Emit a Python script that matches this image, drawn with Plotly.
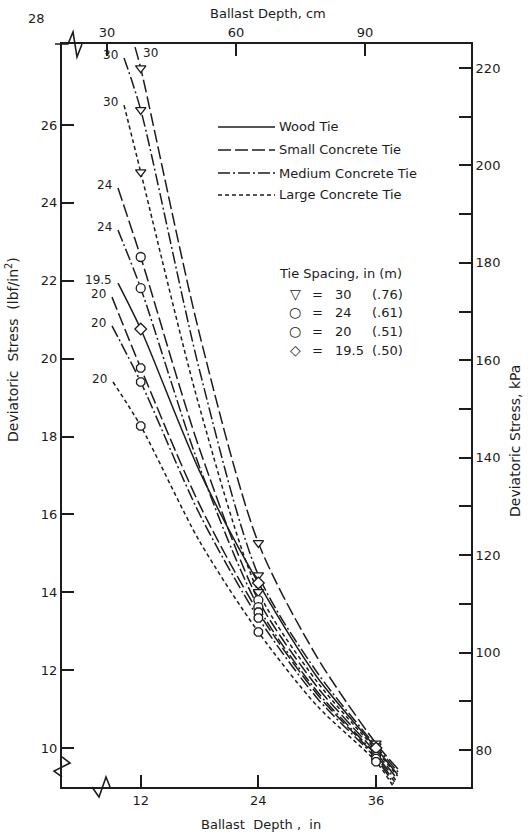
import plotly.graph_objects as go

# ---------------- data ----------------
curve_tie = ["Small", "Medium", "Large", "Small", "Medium", "Wood", "Small", "Medium", "Large"]
curve_spacing = [30, 30, 30, 24, 24, 19.5, 20, 20, 20]
curve_label = ["30", "30", "30", "24", "24", "19.5", "20", "20", "20"]
start_depth = [11.42, 10.30, 10.30, 9.68, 9.68, 9.68, 9.07, 9.07, 9.17]
start_stress = [28.0, 27.72, 26.51, 24.38, 23.30, 21.94, 21.58, 20.84, 19.40]
stress_12 = [27.46, 26.39, 24.79, 22.61, 21.81, 20.76, 19.76, 19.40, 18.27]
stress_18 = [20.63, 19.70, 18.75, 17.68, 17.22, 17.11, 16.25, 16.01, 15.31]
stress_24 = [15.27, 14.44, 14.01, 13.80, 13.62, 14.24, 13.49, 13.34, 12.98]
stress_30 = [12.33, 11.94, 11.70, 11.57, 11.45, 11.82, 11.38, 11.28, 11.08]
stress_36 = [10.12, 10.05, 9.95, 9.88, 9.82, 10.00, 9.78, 9.73, 9.65]
end_depth = [38.4, 38.3, 38.2, 38.1, 38.0, 38.2, 37.9, 37.8, 37.7]
end_stress = [9.42, 9.37, 9.28, 9.23, 9.18, 9.32, 9.13, 9.08, 9.04]

depth_in_ticks = [12, 24, 36]
depth_cm_ticks = [30, 60, 90]
stress_psi_ticks = [10, 12, 14, 16, 18, 20, 22, 24, 26]
stress_kpa_ticks = [80, 100, 120, 140, 160, 180, 200, 220]
stress_kpa_minor = [90, 110, 130, 150, 170, 190, 210]

legend_ties = ["Wood Tie", "Small Concrete Tie", "Medium Concrete Tie", "Large Concrete Tie"]
spacing_rows = [("▽", "30", "(.76)"), ("○", "24", "(.61)"), ("○", "20", "(.51)"), ("◇", "19.5", "(.50)")]

# ---------------- styles ----------------
INK = "#1c1c1c"
FONT = "DejaVu Sans"
DASH = {"Wood": "solid", "Small": "13px,4px", "Medium": "12px,3px,2px,3px", "Large": "4px,3px"}
SYMBOL = {30: "triangle-down", 24: "circle", 20: "octagon", 19.5: "diamond"}

W, H = 528, 837
L, R, T, B = 62, 471, 44, 787  # plot frame in pixels


def pp(x, y):
    return (x - L) / (R - L), (B - y) / (B - T)


fig = go.Figure()
for i in range(len(curve_tie)):
    xs = [start_depth[i], 12, 18, 24, 30, 36, end_depth[i]]
    ys = [start_stress[i], stress_12[i], stress_18[i], stress_24[i], stress_30[i], stress_36[i], end_stress[i]]
    fig.add_trace(go.Scatter(
        x=xs, y=ys, mode="lines",
        line=dict(color=INK, width=1.5, dash=DASH[curve_tie[i]], shape="spline", smoothing=0.8),
        showlegend=False, hoverinfo="skip"))
for i in range(len(curve_tie)):
    fig.add_trace(go.Scatter(
        x=depth_in_ticks, y=[stress_12[i], stress_24[i], stress_36[i]], mode="markers",
        marker=dict(symbol=SYMBOL[curve_spacing[i]], size=9, color="white",
                    line=dict(color=INK, width=1.3)),
        showlegend=False, hoverinfo="skip"))

# placeholder trace so the secondary axes are drawn
fig.add_trace(go.Scatter(x=[None], y=[None], xaxis="x2", yaxis="y2", showlegend=False, hoverinfo="skip"))

axis_common = dict(showgrid=False, zeroline=False, showline=True, linecolor=INK, linewidth=2,
                   ticks="inside", ticklen=12, tickwidth=1.5, tickcolor=INK, automargin=False,
                   tickfont=dict(family=FONT, size=13, color=INK))

fig.update_layout(
    width=W, height=H,
    margin=dict(l=L, r=W - R, t=T, b=H - B, autoexpand=False),
    paper_bgcolor="white", plot_bgcolor="white",
    font=dict(family=FONT, size=13, color=INK),
    xaxis=dict(range=[3.97, 45.69], tickvals=depth_in_ticks, **axis_common),
    xaxis2=dict(range=[19.53, 114.65], tickvals=depth_cm_ticks, overlaying="x", side="top",
                anchor="y", **axis_common),
    yaxis=dict(range=[9.0, 28.08], tickvals=stress_psi_ticks, **axis_common),
    yaxis2=dict(range=[72.4, 224.93], tickvals=stress_kpa_ticks, overlaying="y", side="right",
                anchor="x",
                minor=dict(tickvals=stress_kpa_minor, ticks="inside", ticklen=12, tickwidth=1.5,
                           tickcolor=INK),
                **axis_common),
)

ann = []


def text_px(x, y, text, size=13, xanchor="center", yanchor="middle", angle=0):
    px_, py_ = pp(x, y)
    ann.append(dict(x=px_, y=py_, xref="paper", yref="paper", text=text, showarrow=False,
                    xanchor=xanchor, yanchor=yanchor, textangle=angle,
                    font=dict(family=FONT, size=size, color=INK)))


# axis titles
text_px(268, 13, "Ballast Depth, cm")
text_px(261, 824, "Ballast  Depth ,  in")
text_px(12, 350, "Deviatoric  Stress  (lbf/in<sup>2</sup>)", size=14, angle=-90)
text_px(515, 441, "Deviatoric Stress, kPa", size=14, angle=-90)
text_px(36, 18, "28")

# curve labels
for i in range(len(curve_tie)):
    if i == 0:
        ann.append(dict(x=start_depth[i], y=start_stress[i], xref="x", yref="y", text=curve_label[i],
                        showarrow=False, xanchor="left", yanchor="middle", xshift=6, yshift=-6,
                        font=dict(family=FONT, size=12, color=INK)))
    else:
        ann.append(dict(x=start_depth[i], y=start_stress[i], xref="x", yref="y", text=curve_label[i],
                        showarrow=False, xanchor="right", yanchor="middle", xshift=-4, yshift=3,
                        font=dict(family=FONT, size=12, color=INK)))

# tie-type legend
shapes = []
leg_y = [127, 150, 173, 195]
for k, name in enumerate(legend_ties):
    x0, y0 = pp(218, leg_y[k])
    x1, _ = pp(275, leg_y[k])
    tie = name.split()[0]
    shapes.append(dict(type="line", xref="paper", yref="paper", x0=x0, x1=x1, y0=y0, y1=y0,
                       line=dict(color=INK, width=1.4, dash=DASH[tie])))
    text_px(277, leg_y[k], name, xanchor="left")

# tie-spacing legend
text_px(277, 273, "Tie Spacing, in (m)", xanchor="left")
row_y = [294, 312, 331, 350]
for k, (sym, num, met) in enumerate(spacing_rows):
    text_px(295, row_y[k], sym, size=14)
    text_px(317, row_y[k], "=")
    text_px(333, row_y[k], num, xanchor="left")
    text_px(370, row_y[k], met, xanchor="left")


# axis-break zigzags
def zig(points):
    pts = [pp(x, y) for x, y in points]
    path = "M " + " L ".join(f"{a:.4f},{b:.4f}" for a, b in pts)
    shapes.append(dict(type="path", xref="paper", yref="paper", path=path,
                       line=dict(color=INK, width=1.6)))


zig([(55, 44), (68, 44), (73, 32), (77, 57), (82, 44)])
zig([(62, 757), (70, 763), (54, 771), (62, 777)])
zig([(92, 787), (99, 797), (106, 777), (110, 787)])

fig.update_layout(annotations=ann, shapes=shapes)
fig.write_html("out.html", config={"displayModeBar": False},
               post_script="document.body.style.margin='0';document.body.style.overflow='hidden';")
